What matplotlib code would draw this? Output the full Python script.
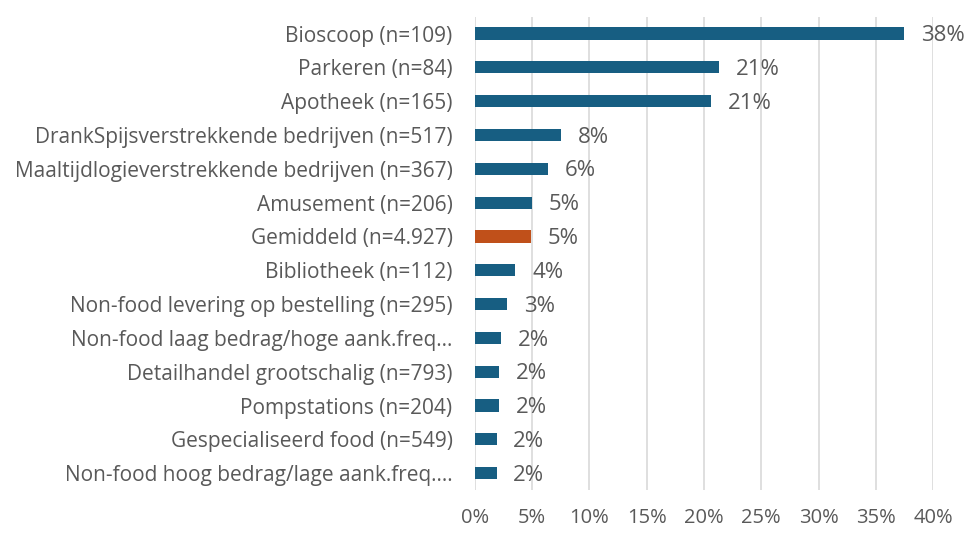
import matplotlib
matplotlib.use("Agg")
import matplotlib.pyplot as plt
from matplotlib.ticker import PercentFormatter

plt.rcParams['font.family'] = ['Open Sans', 'DejaVu Sans']

categories = [
    "Bioscoop (n=109)",
    "Parkeren (n=84)",
    "Apotheek (n=165)",
    "DrankSpijsverstrekkende bedrijven (n=517)",
    "Maaltijdlogieverstrekkende bedrijven (n=367)",
    "Amusement (n=206)",
    "Gemiddeld (n=4.927)",
    "Bibliotheek (n=112)",
    "Non-food levering op bestelling (n=295)",
    "Non-food laag bedrag/hoge aank.freq\u2026",
    "Detailhandel grootschalig (n=793)",
    "Pompstations (n=204)",
    "Gespecialiseerd food (n=549)",
    "Non-food hoog bedrag/lage aank.freq.\u2026",
]
values = [0.375, 0.213, 0.206, 0.075, 0.064, 0.050, 0.049, 0.0355,
          0.028, 0.023, 0.021, 0.021, 0.019, 0.019]
highlight = "Gemiddeld (n=4.927)"

blue = "#175e82"
orange = "#c0501a"
text_col = "#595959"

fig = plt.figure(figsize=(9.75, 5.38), dpi=100)
ax = fig.add_axes([0.487, 0.089, 0.47, 0.88])

y = list(range(len(categories)))
colors = [orange if c == highlight else blue for c in categories]
ax.barh(y, values, height=0.36, color=colors, zorder=3)

for yi, v in zip(y, values):
    ax.annotate(f"{v*100:.0f}%", (v, yi), xytext=(12, -1.5), textcoords="offset points",
                va="center", ha="left", fontsize=16, color=text_col)

ax.set_yticks(y)
ax.set_yticklabels(categories, fontsize=15, color=text_col)
ax.set_ylim(len(categories) - 0.5, -0.5)
ax.set_xlim(0, 0.40)
ax.set_xticks([i / 100 for i in range(0, 41, 5)])
ax.xaxis.set_major_formatter(PercentFormatter(1.0, decimals=0))
ax.tick_params(axis='x', labelsize=14.5, colors=text_col, length=0, pad=13)
ax.tick_params(axis='y', length=0, pad=16)
ax.grid(axis='x', color="#d9d9d9", linewidth=1.2, zorder=0)
for s in ax.spines.values():
    s.set_visible(False)

fig.savefig("out.png", dpi=100, facecolor="white")
